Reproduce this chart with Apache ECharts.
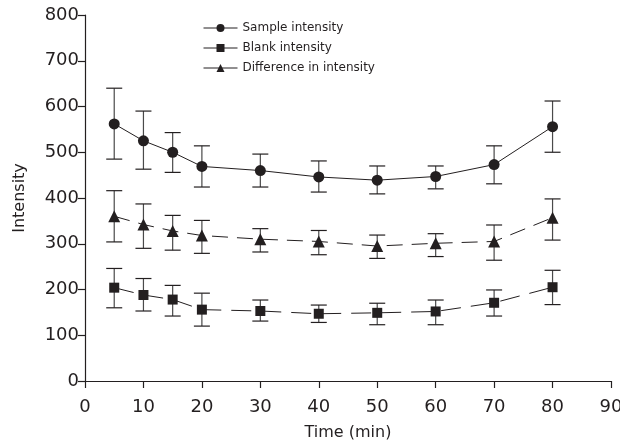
<!DOCTYPE html>
<html>
<head>
<meta charset="utf-8">
<script src="https://cdn.jsdelivr.net/npm/echarts@6/dist/echarts.min.js"></script>
<style>
    html, body { margin: 0; padding: 0; background: #fff; }
    #chart { width: 620px; height: 441px; }
</style>
</head>
<body>
<div id="chart"></div>
<script>
    // time points (min)
    var times = [5, 10, 15, 20, 30, 40, 50, 60, 70, 80];

    var sampleMean = [562, 525, 500, 469, 460, 446, 439, 447, 473, 556];
    var sampleLow  = [485, 463, 456, 424, 424, 413, 409, 420, 431, 500];
    var sampleHigh = [640, 590, 543, 514, 496, 481, 470, 470, 514, 612];

    var blankMean = [204, 188, 178, 156, 153, 147, 149, 152, 171, 205];
    var blankLow  = [160, 153, 142, 120, 131, 128, 123, 123, 142, 167];
    var blankHigh = [246, 224, 209, 192, 177, 166, 170, 177, 199, 242];

    var diffMean = [360, 342, 328, 318, 310, 305, 295, 301, 305, 357];
    var diffLow  = [304, 290, 286, 279, 282, 276, 268, 272, 264, 308];
    var diffHigh = [416, 387, 362, 351, 333, 329, 319, 322, 341, 398];

    var font = 'DejaVu Sans';
    var ink = '#231f20';

    function pairs(ys) {
        return times.map(function(t, i) { return [t, ys[i]]; });
    }

    function errorBars(low, high) {
        return {
            type: 'custom',
            silent: true,
            z: 1,
            data: times.map(function(t, i) { return [t, low[i], high[i]]; }),
            renderItem: function(params, api) {
                var lo = api.coord([api.value(0), api.value(1)]);
                var hi = api.coord([api.value(0), api.value(2)]);
                var w = 8;
                var style = { stroke: ink, lineWidth: 1.2 };
                return {
                    type: 'group',
                    children: [
                        { type: 'line', shape: { x1: lo[0], y1: lo[1], x2: hi[0], y2: hi[1] }, style: { stroke: '#4a4a4a', lineWidth: 1.2 } },
                        { type: 'line', shape: { x1: lo[0] - w, y1: lo[1], x2: lo[0] + w, y2: lo[1] }, style: style },
                        { type: 'line', shape: { x1: hi[0] - w, y1: hi[1], x2: hi[0] + w, y2: hi[1] }, style: style }
                    ]
                };
            }
        };
    }

    var myChart = echarts.init(document.getElementById('chart'));

    var option = {
        animation: false,
        backgroundColor: '#fff',
        grid: { left: 85, right: 9, top: 15, bottom: 60, outerBoundsMode: 'none', containLabel: false },
        legend: {
            orient: 'vertical',
            left: 198,
            top: 17,
            itemWidth: 34,
            itemHeight: 10,
            itemGap: 8,
            textStyle: { fontFamily: font, fontSize: 12, color: ink },
            lineStyle: { type: 'solid', width: 1 },
            data: ['Sample intensity', 'Blank intensity', 'Difference in intensity']
        },
        xAxis: {
            type: 'value',
            min: 0,
            max: 90,
            interval: 10,
            name: 'Time (min)',
            nameLocation: 'middle',
            nameGap: 44,
            nameTextStyle: { fontFamily: font, fontSize: 16, color: ink },
            axisLine: { lineStyle: { color: ink, width: 1.2 } },
            axisTick: { length: 7, lineStyle: { color: ink, width: 1.2 } },
            axisLabel: { fontFamily: font, fontSize: 18, color: ink, margin: 17 },
            splitLine: { show: false }
        },
        yAxis: {
            type: 'value',
            min: 0,
            max: 800,
            interval: 100,
            name: 'Intensity',
            nameLocation: 'middle',
            nameGap: 57,
            nameTextStyle: { fontFamily: font, fontSize: 16, color: ink },
            axisLine: { show: true, lineStyle: { color: ink, width: 1.2 } },
            axisTick: { show: true, length: 7, lineStyle: { color: ink, width: 1.2 } },
            axisLabel: { fontFamily: font, fontSize: 18, color: ink, margin: 6 },
            splitLine: { show: false }
        },
        series: [
            errorBars(sampleLow, sampleHigh),
            errorBars(blankLow, blankHigh),
            errorBars(diffLow, diffHigh),
            {
                name: 'Sample intensity',
                type: 'line',
                z: 3,
                data: pairs(sampleMean),
                symbol: 'circle',
                symbolSize: 11,
                itemStyle: { color: ink },
                lineStyle: { color: ink, width: 1 }
            },
            {
                name: 'Blank intensity',
                type: 'line',
                z: 3,
                data: pairs(blankMean),
                symbol: 'rect',
                symbolSize: 10,
                itemStyle: { color: ink },
                lineStyle: { color: ink, width: 1, type: [20, 10] }
            },
            {
                name: 'Difference in intensity',
                type: 'line',
                z: 3,
                data: pairs(diffMean),
                symbol: 'triangle',
                symbolSize: 12,
                itemStyle: { color: ink },
                lineStyle: { color: ink, width: 1, type: [16, 9] }
            }
        ]
    };

    myChart.setOption(option);
</script>
</body>
</html>
